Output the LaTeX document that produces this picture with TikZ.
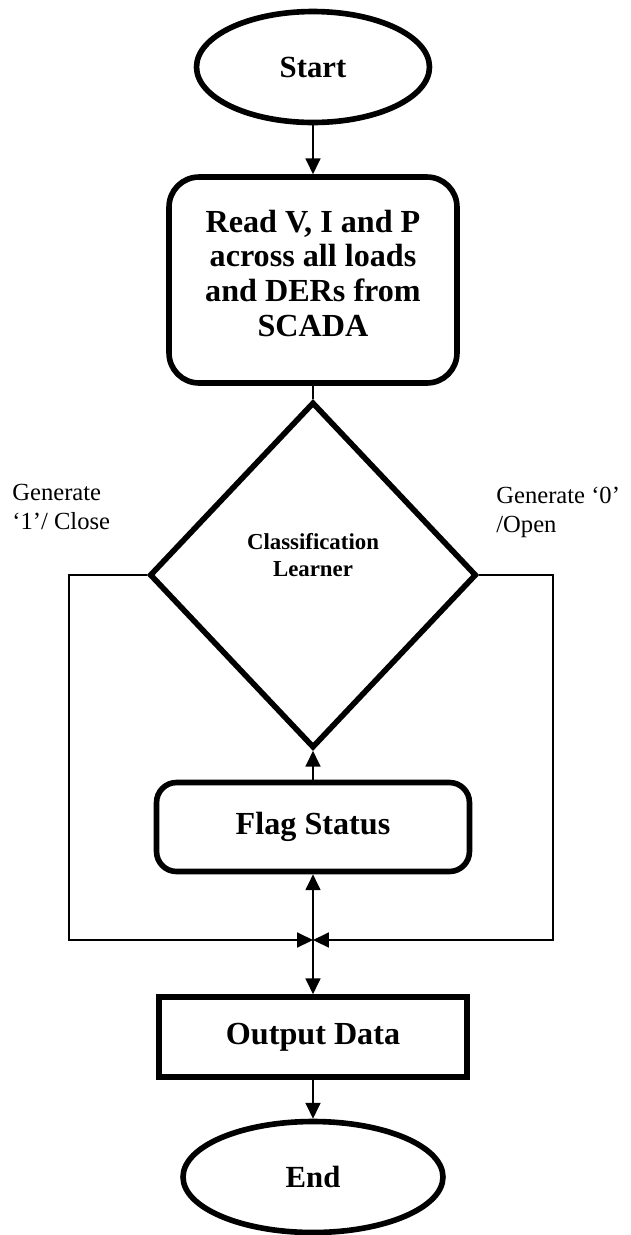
\documentclass[tikz,border=0pt]{standalone}
\usepackage{fontspec}
\setmainfont{Liberation Serif}
\usetikzlibrary{shapes.geometric,arrows.meta}
\definecolor{FlowInk}{HTML}{000000}

\begin{document}
\begin{tikzpicture}[x=0.02cm,y=-0.02cm,
    >={Triangle[length=9pt,width=8.5pt]},
    terminal/.style={ellipse,draw=FlowInk,line width=3.2pt,inner sep=0pt,
      font=\fontsize{17.5}{20}\selectfont\bfseries},
    process/.style={rectangle,draw=FlowInk,line width=3.2pt,align=center,inner sep=0pt,
      font=\fontsize{18.3}{19.8}\selectfont\bfseries},
    decision/.style={diamond,draw=FlowInk,line width=3.2pt,align=center,inner sep=0pt,
      font=\fontsize{13}{15.8}\selectfont\bfseries},
    flowline/.style={draw=FlowInk,line width=0.9pt},
    sidelabel/.style={anchor=west,align=left,inner sep=0pt,
      font=\fontsize{14}{16.5}\selectfont}]
    \useasboundingbox (0,0) rectangle (630,1235);

    % main column
    \node[terminal,minimum width=4.66cm,minimum height=2.22cm] (start) at (313,67) {Start};
    \node[process,rounded corners=0.6cm,minimum width=5.76cm,minimum height=4.12cm] (read) at (313,280)
      {Read V, I and P\\ across all loads\\ and DERs from\\ SCADA\\[-12pt]\mbox{}};
    \node[decision,minimum width=6.54cm,minimum height=6.92cm] (learner) at (313,575)
      {Classification\\ Learner\\[7pt]\mbox{}};
    \node[process,rounded corners=0.4cm,minimum width=6.26cm,minimum height=1.78cm] (flag) at (313,827)
      {Flag Status};
    \node[process,minimum width=6.16cm,minimum height=1.6cm] (output) at (313,1037) {Output Data};
    \node[terminal,minimum width=5.2cm,minimum height=2.22cm] (end) at (313,1177) {End};

    % side labels
    \node[sidelabel] (closelbl) at (12,507) {Generate\\ ‘1’/ Close};
    \node[sidelabel] (openlbl) at (496,512) {Generate ‘0’\\ /Open};

    % junction and loop corners
    \coordinate (merge) at (313,940);
    \coordinate (leftdrop) at (69,940);
    \coordinate (rightdrop) at (553,940);

    \draw[flowline,->] (start) -- (read);
    \draw[flowline] (read) -- (learner);
    \draw[flowline,->] (flag) -- (learner);
    \draw[flowline,<->] (flag) -- (output);
    \draw[flowline,->] (output) -- (end);
    \draw[flowline,->] (learner.west) -| (leftdrop) -- (merge);
    \draw[flowline,->] (learner.east) -| (rightdrop) -- (merge);
  \end{tikzpicture}
\end{document}
